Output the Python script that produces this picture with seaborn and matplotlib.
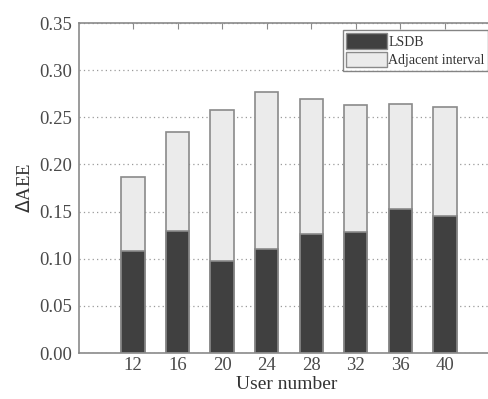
import matplotlib; matplotlib.use("Agg")
import matplotlib.pyplot as plt
import numpy as np
import pandas as pd
import seaborn as sns
from matplotlib.patches import Patch

users = [12, 16, 20, 24, 28, 32, 36, 40]
lsdb = [0.108, 0.129, 0.098, 0.110, 0.126, 0.128, 0.153, 0.145]
total = [0.187, 0.234, 0.258, 0.277, 0.269, 0.263, 0.264, 0.261]
yticks = [0.00, 0.05, 0.10, 0.15, 0.20, 0.25, 0.30, 0.35]

df = pd.DataFrame({"user": [str(u) for u in users], "lsdb": lsdb, "total": total})

sns.set_style("white")
plt.rcParams["font.family"] = ["Liberation Serif", "DejaVu Serif"]
TXT = "#4a4a4a"
EDGE = "#8a8a8a"

fig = plt.figure(figsize=(4.88, 3.99), dpi=100)
ax = fig.add_axes([79 / 488, 46 / 399, 415 / 488, 330 / 399])

sns.barplot(data=df, x="user", y="total", color="#ebebeb", edgecolor=EDGE,
            linewidth=1.2, width=0.52, saturation=1, ax=ax)
sns.barplot(data=df, x="user", y="lsdb", color="#404040", edgecolor=EDGE,
            linewidth=1.2, width=0.52, saturation=1, ax=ax)

ax.set_xlim(-1.21, 8.1)
ax.set_ylim(0, 0.35)
ax.set_yticks(yticks)
ax.set_yticklabels([f"{v:.2f}" for v in yticks])
ax.yaxis.grid(True, linestyle=(0, (1, 2.5)), color="#9a9a9a", linewidth=0.9)
ax.set_axisbelow(True)
for s in ax.spines.values():
    s.set_color(EDGE); s.set_linewidth(1.2)
ax.tick_params(axis="both", colors=TXT, labelsize=13.5, direction="in", length=4,
               color=EDGE, top=True, left=False)
ax.tick_params(axis="x", pad=3)
ax.tick_params(axis="y", pad=5)
ax.set_xlabel("User number", fontsize=14, color="#333333", labelpad=1)
ax.set_ylabel(r"$\mathit{\Delta}$AEE", fontsize=13.5, color="#333333", labelpad=4)

handles = [Patch(facecolor="#404040", edgecolor=EDGE, label="LSDB"),
           Patch(facecolor="#ebebeb", edgecolor=EDGE, label="Adjacent interval")]
leg = fig.legend(handles=handles, loc="upper left", bbox_to_anchor=(343 / 488, 1 - 30 / 399),
                 bbox_transform=fig.transFigure, fontsize=10, frameon=True, fancybox=False,
                 borderpad=0.25, handlelength=2.9, handleheight=1.3, handletextpad=0.1,
                 labelspacing=0.25, borderaxespad=0)
leg.get_frame().set_edgecolor("#666666")
leg.get_frame().set_linewidth(1.0)
for t in leg.get_texts():
    t.set_color("#333333")

fig.savefig("out.png", dpi=100)
